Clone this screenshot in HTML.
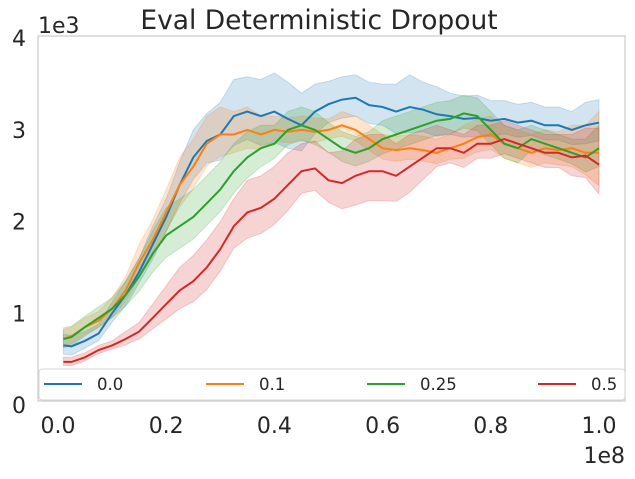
<!DOCTYPE html>
<html><head><meta charset="utf-8"><style>
body{margin:0;background:#fff}
svg text{font-family:"DejaVu Sans","Liberation Sans",sans-serif;fill:#262626}
</style></head><body>
<svg width="635" height="474" viewBox="0 0 635 474">
<rect x="38" y="36" width="587" height="365" fill="#fff" stroke="#cccccc" stroke-width="1.25"/>
<g id="bands"></g><g id="lines"></g><g id="ticks"></g>
<text x="319" y="29" font-size="26.5" text-anchor="middle">Eval Deterministic Dropout</text>
<text x="38" y="33" font-size="22">1e3</text>
<text x="625" y="463" font-size="22" text-anchor="end">1e8</text>
<g>
<rect x="39" y="369" width="586" height="31" rx="3" fill="#fff" fill-opacity="0.8" stroke="#d5d5d5"/>
<g id="legend"></g>
</g>
</svg>
<script>
const xs=[0.01,0.025,0.05,0.075,0.1,0.125,0.15,0.175,0.2,0.225,0.25,0.275,0.3,0.325,0.35,0.375,0.4,0.425,0.45,0.475,0.5,0.525,0.55,0.575,0.6,0.625,0.65,0.675,0.7,0.725,0.75,0.775,0.8,0.825,0.85,0.875,0.9,0.925,0.95,0.975,1.0];
const s0=[0.65,0.64,0.70,0.78,1.0,1.2,1.45,1.75,2.05,2.4,2.7,2.88,2.95,3.15,3.2,3.15,3.2,3.12,3.05,3.2,3.28,3.33,3.35,3.27,3.25,3.2,3.25,3.22,3.17,3.15,3.12,3.13,3.1,3.12,3.08,3.1,3.05,3.05,3.0,3.05,3.08];
const s1=[0.72,0.75,0.85,0.92,1.05,1.25,1.55,1.8,2.1,2.4,2.6,2.85,2.95,2.95,3.0,2.95,3.0,2.98,3.0,2.98,3.0,3.05,3.0,2.9,2.8,2.78,2.8,2.78,2.75,2.8,2.85,2.92,2.95,2.85,2.8,2.75,2.8,2.78,2.8,2.75,2.75];
const s2=[0.72,0.74,0.85,0.95,1.05,1.2,1.4,1.65,1.85,1.95,2.05,2.2,2.35,2.55,2.7,2.8,2.85,3.0,3.05,3.0,2.9,2.8,2.75,2.8,2.9,2.95,3.0,3.05,3.1,3.12,3.18,3.15,3.0,2.85,2.8,2.9,2.85,2.8,2.75,2.7,2.8];
const s3=[0.47,0.47,0.52,0.6,0.65,0.72,0.8,0.95,1.1,1.25,1.35,1.5,1.7,1.95,2.1,2.15,2.25,2.4,2.55,2.58,2.45,2.42,2.5,2.55,2.55,2.5,2.6,2.7,2.8,2.8,2.75,2.85,2.85,2.9,2.85,2.8,2.75,2.75,2.7,2.72,2.62];
const w0=[0.12,0.12,0.1,0.1,0.12,0.15,0.15,0.2,0.2,0.25,0.3,0.3,0.35,0.4,0.38,0.4,0.42,0.4,0.35,0.3,0.25,0.25,0.25,0.25,0.25,0.3,0.35,0.3,0.3,0.25,0.25,0.25,0.22,0.2,0.2,0.2,0.2,0.2,0.2,0.25,0.25];
const w1=[0.1,0.1,0.1,0.1,0.12,0.15,0.2,0.22,0.25,0.3,0.3,0.3,0.3,0.25,0.25,0.2,0.15,0.15,0.15,0.15,0.12,0.15,0.15,0.15,0.15,0.15,0.15,0.15,0.15,0.15,0.2,0.2,0.2,0.2,0.2,0.2,0.2,0.2,0.25,0.3,0.45];
const w2=[0.12,0.12,0.12,0.12,0.12,0.15,0.2,0.25,0.3,0.3,0.3,0.3,0.3,0.3,0.28,0.25,0.2,0.2,0.2,0.2,0.18,0.18,0.18,0.18,0.2,0.2,0.2,0.2,0.2,0.2,0.2,0.2,0.2,0.2,0.2,0.15,0.15,0.15,0.15,0.2,0.25];
const w3=[0.05,0.05,0.05,0.05,0.05,0.08,0.1,0.15,0.2,0.25,0.28,0.3,0.3,0.3,0.35,0.35,0.35,0.35,0.3,0.3,0.3,0.35,0.4,0.4,0.4,0.35,0.35,0.3,0.25,0.2,0.2,0.2,0.2,0.2,0.2,0.2,0.2,0.2,0.25,0.3,0.4];
const labels=["0.0","0.1","0.25","0.5"];
const colors=["#1f77b4","#ff7f0e","#2ca02c","#d62728"];
const xTicks=[0,0.2,0.4,0.6,0.8,1.0];
const xTickLabels=["0.0","0.2","0.4","0.6","0.8","1.0"];
const yTicks=[0,1,2,3,4];
const ns="http://www.w3.org/2000/svg";
const X=v=>58+v*541;
const Y=v=>405-v*91.7;
const series=[s0,s1,s2,s3],widths=[w0,w1,w2,w3];
function mk(t,a,p){const e=document.createElementNS(ns,t);for(const k in a)e.setAttribute(k,a[k]);p.appendChild(e);return e;}
const bandsG=document.getElementById('bands'),linesG=document.getElementById('lines');
series.forEach((s,i)=>{
  const up=s.map((v,j)=>X(xs[j]).toFixed(1)+','+Y(v+widths[i][j]).toFixed(1));
  const lo=s.map((v,j)=>X(xs[j]).toFixed(1)+','+Y(v-widths[i][j]*0.8).toFixed(1)).reverse();
  const b=mk('polygon',{points:up.concat(lo).join(' '),fill:colors[i],'fill-opacity':0.2,stroke:colors[i],'stroke-opacity':0.2},bandsG);
  
  
});
series.forEach((s,i)=>{
  const l=mk('polyline',{points:s.map((v,j)=>X(xs[j]).toFixed(1)+','+Y(v).toFixed(1)).join(' '),fill:'none',stroke:colors[i],'stroke-width':2},linesG);
  
  
});
const tg=document.getElementById('ticks');
xTicks.forEach((v,i)=>{
  const t=mk('text',{x:X(v),y:433,'font-size':22,'text-anchor':'middle'},tg);t.textContent=xTickLabels[i];
  
  
});
yTicks.forEach(v=>{
  const t=mk('text',{x:19,y:Y(v)+8,'font-size':22,'text-anchor':'middle'},tg);t.textContent=String(v);
  
  
});
const lg=document.getElementById('legend');const lx=[44,206,367,538];
labels.forEach((lab,i)=>{
  const g=mk('g',{},lg);
  
  
  mk('line',{x1:lx[i],x2:lx[i]+38,y1:384,y2:384,stroke:colors[i],'stroke-width':2},g);
  const t=mk('text',{x:lx[i]+53,y:390,'font-size':16.5},g);t.textContent=lab;
});
</script>
</body></html>
